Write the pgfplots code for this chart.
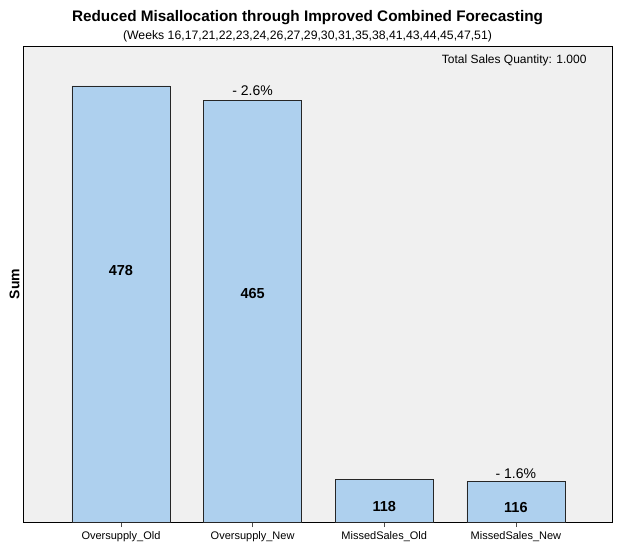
\documentclass[border=0pt]{standalone}
\usepackage{pgfplots}
\pgfplotsset{compat=1.18}
\usepackage{fontspec}
\setmainfont{Liberation Sans}
\definecolor{barfill}{RGB}{174,208,238}
\definecolor{bgfill}{RGB}{240,240,240}
\begin{document}
\begin{tikzpicture}
\begin{axis}[
  scale only axis,
  width=589pt, height=476pt,
  xmin=-0.744, xmax=3.73,
  ymin=79, ymax=514.5,
  axis background/.style={fill=bgfill},
  axis line style={black, line width=0.8pt},
  xtick={0,1,2,3},
  xticklabels={Oversupply\_Old,Oversupply\_New,MissedSales\_Old,MissedSales\_New},
  x tick label style={font=\fontsize{11}{13}\selectfont, yshift=-1pt},
  xtick style={draw=black!70, line width=0.6pt},
  xtick pos=bottom,
  tick align=outside,
  major tick length=5pt,
  ytick=\empty,
  ylabel={\textbf{Sum}},
  ylabel style={font=\fontsize{14}{16}\selectfont, at={(axis description cs:0,0.5)}, anchor=south, yshift=0pt},
  clip=false,
]
\addplot[ybar, bar width=98pt, fill=barfill, draw=black!85, line width=0.7pt] coordinates {(0,478) (1,465) (2,118) (3,116)};
\node[font=\bfseries\fontsize{14.5}{16}\selectfont] at (axis cs:0,309) {478};
\node[font=\bfseries\fontsize{14.5}{16}\selectfont] at (axis cs:1,288) {465};
\node[font=\bfseries\fontsize{14.5}{16}\selectfont] at (axis cs:2,93) {118};
\node[font=\bfseries\fontsize{14.5}{16}\selectfont] at (axis cs:3,92) {116};
\node[font=\fontsize{14}{16}\selectfont] at (axis cs:1,474) {- 2.6\%};
\node[font=\fontsize{14}{16}\selectfont] at (axis cs:3,123) {- 1.6\%};
\node[font=\fontsize{12}{14}\selectfont, anchor=east] at ([xshift=-22pt,yshift=-14pt]rel axis cs:1,1) {Total Sales Quantity: 1.000};
\node[font=\bfseries\fontsize{15.3}{18}\selectfont] at ([xshift=-10pt,yshift=28.5pt]rel axis cs:0.5,1) {Reduced Misallocation through Improved Combined Forecasting};
\node[font=\fontsize{12.25}{14}\selectfont] at ([xshift=-10pt,yshift=9.5pt]rel axis cs:0.5,1) {(Weeks 16,17,21,22,23,24,26,27,29,30,31,35,38,41,43,44,45,47,51)};
\end{axis}
\pgfresetboundingbox
\useasboundingbox ([xshift=-23pt,yshift=-29pt]current axis.south west) rectangle ++(617pt,551pt);
\end{tikzpicture}
\end{document}
